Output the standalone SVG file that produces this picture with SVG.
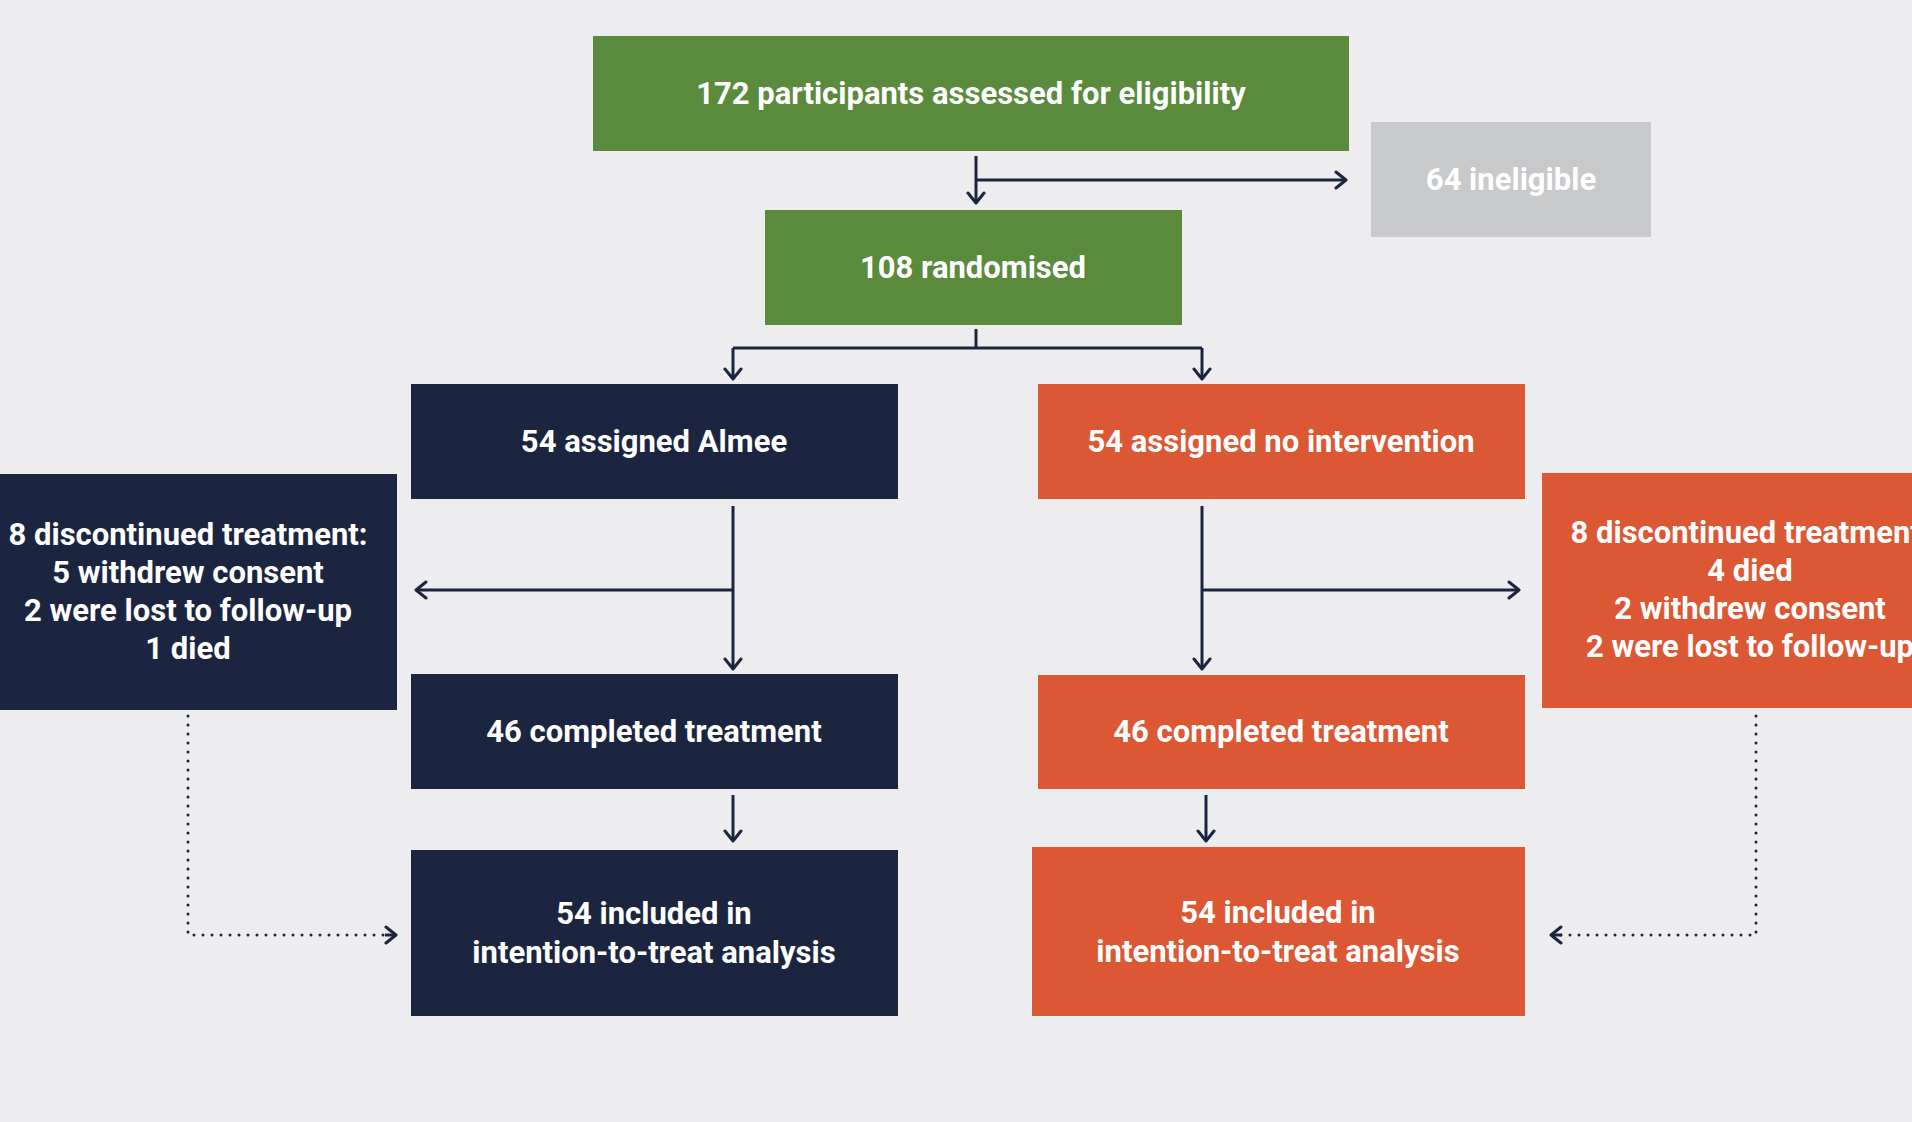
<svg xmlns="http://www.w3.org/2000/svg" width="1912" height="1122" viewBox="0 0 1912 1122">
<defs>
<style>
.t{font-family:Roboto,"Liberation Sans",sans-serif;font-weight:700;font-size:31px;fill:#ffffff;text-anchor:middle}
.g{fill:#5a8a3c}.n{fill:#1c2540}.o{fill:#dc5734}.gr{fill:#c8c9cb}
.c{fill:none;stroke:#1c2540;stroke-width:3}
.d{fill:none;stroke:#1c2540;stroke-width:3;stroke-dasharray:0 9;stroke-linecap:round}
</style>
<marker id="a" viewBox="0 0 20 20" refX="18" refY="10" markerWidth="20" markerHeight="20" markerUnits="userSpaceOnUse" orient="auto">
<path d="M8,2 L18,10 L8,18" fill="none" stroke="#1c2540" stroke-width="3" stroke-linecap="round" stroke-linejoin="round"/>
</marker>
</defs>
<rect width="1912" height="1122" fill="#ededf0"/>
<g id="connectors">
<path class="c" d="M976,156 V203" marker-end="url(#a)"/>
<path class="c" d="M976,180 H1346" marker-end="url(#a)"/>
<path class="c" d="M976,329 V348"/>
<path class="c" d="M733,348 H1202"/>
<path class="c" d="M733,348 V379" marker-end="url(#a)"/>
<path class="c" d="M1202,348 V379" marker-end="url(#a)"/>
<path class="c" d="M733,506 V669" marker-end="url(#a)"/>
<path class="c" d="M733,590 H416" marker-end="url(#a)"/>
<path class="c" d="M1202,506 V669" marker-end="url(#a)"/>
<path class="c" d="M1202,590 H1519" marker-end="url(#a)"/>
<path class="c" d="M733,795 V841" marker-end="url(#a)"/>
<path class="c" d="M1206,795 V841" marker-end="url(#a)"/>
<path class="d" d="M188,716 V935 H392"/>
<path class="c" d="M385,935 H396" marker-end="url(#a)"/>
<path class="d" d="M1756,716 V935 H1556"/>
<path class="c" d="M1562,935 H1551" marker-end="url(#a)"/>
</g>
<g id="assessed"><rect class="g" x="593" y="36" width="756" height="115"/><text class="t" x="971" y="104">172 participants assessed for eligibility</text></g>
<g id="ineligible"><rect class="gr" x="1371" y="122" width="280" height="115"/><text class="t" x="1511" y="190">64 ineligible</text></g>
<g id="randomised"><rect class="g" x="765" y="210" width="417" height="115"/><text class="t" x="973" y="278">108 randomised</text></g>
<g id="almee"><rect class="n" x="411" y="384" width="487" height="115"/><text class="t" x="654" y="452">54 assigned Almee</text></g>
<g id="nointervention"><rect class="o" x="1038" y="384" width="487" height="115"/><text class="t" x="1281" y="452">54 assigned no intervention</text></g>
<g id="discontinued-left"><rect class="n" x="-21" y="474" width="418" height="236"/>
<text class="t" x="188" y="545">8 discontinued treatment:</text>
<text class="t" x="188" y="583">5 withdrew consent</text>
<text class="t" x="188" y="621">2 were lost to follow-up</text>
<text class="t" x="188" y="659">1 died</text></g>
<g id="discontinued-right"><rect class="o" x="1542" y="473" width="420" height="235"/>
<text class="t" x="1750" y="543">8 discontinued treatment:</text>
<text class="t" x="1750" y="581">4 died</text>
<text class="t" x="1750" y="619">2 withdrew consent</text>
<text class="t" x="1750" y="657">2 were lost to follow-up</text></g>
<g id="completed-left"><rect class="n" x="411" y="674" width="487" height="115"/><text class="t" x="654" y="742">46 completed treatment</text></g>
<g id="completed-right"><rect class="o" x="1038" y="675" width="487" height="114"/><text class="t" x="1281" y="742">46 completed treatment</text></g>
<g id="itt-left"><rect class="n" x="411" y="850" width="487" height="166"/>
<text class="t" x="654" y="924">54 included in</text>
<text class="t" x="654" y="963">intention-to-treat analysis</text></g>
<g id="itt-right"><rect class="o" x="1032" y="847" width="493" height="169"/>
<text class="t" x="1278" y="923">54 included in</text>
<text class="t" x="1278" y="962">intention-to-treat analysis</text></g>
</svg>
